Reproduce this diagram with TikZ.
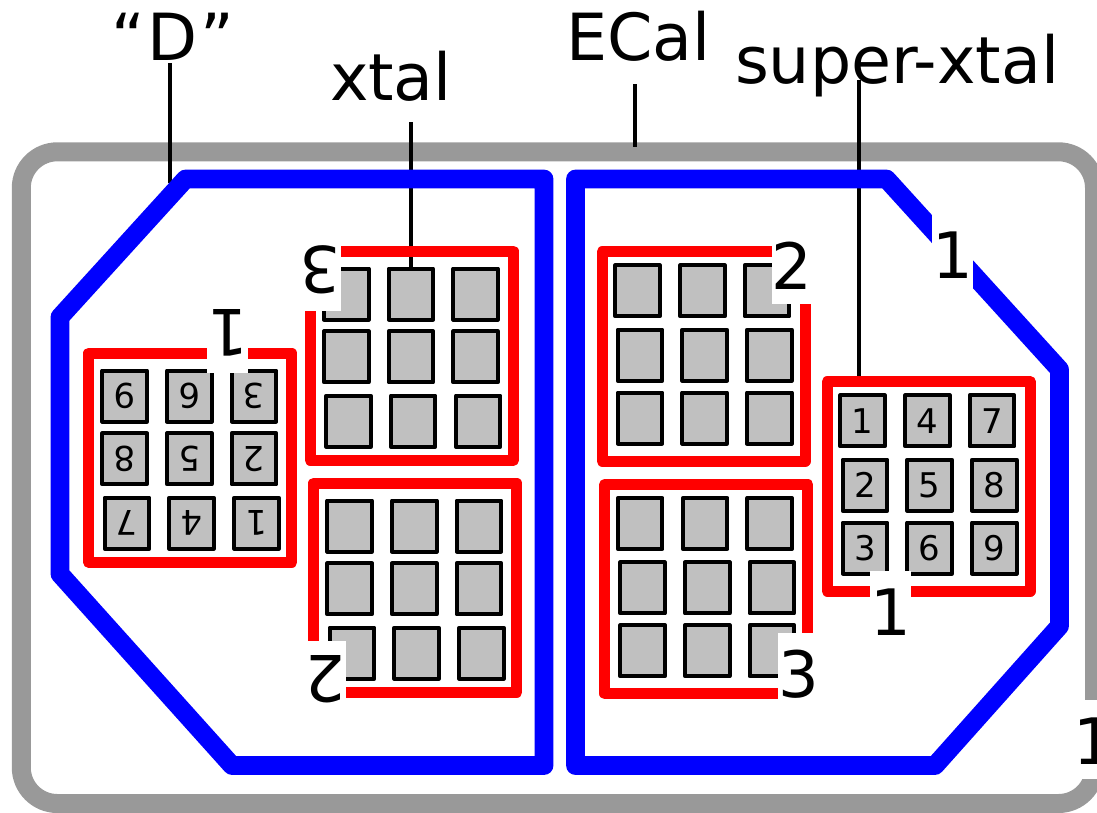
\documentclass[tikz,border=0pt]{standalone}
\usepackage{fontspec}
\setmainfont{DejaVu Sans}
\newcommand\bigfont{\fontsize{64}{70}\selectfont}
\newcommand\labelfont{\fontsize{65}{70}\selectfont}
\newcommand\cellfont{\fontsize{34}{38}\selectfont}
\definecolor{shellgray}{HTML}{999999}
\definecolor{cellgray}{HTML}{C0C0C0}
\tikzset{
  shell/.style={draw=shellgray,line width=19pt,rounded corners=36pt},
  dee/.style={draw=blue,line width=18.8pt,line join=round},
  leader/.style={draw=black,line width=4.2pt},
  redframe/.style={draw=red,line width=11pt,line join=round,rectangle,inner sep=0pt,outer sep=0pt,minimum width=203pt,minimum height=209.3pt},
  xtalcell/.style={draw=black,fill=cellgray,line width=4pt,line join=round,rectangle,inner sep=0pt,outer sep=0pt,minimum width=44.5pt,minimum height=51pt,font=\cellfont,text=black},
  biglabel/.style={inner sep=0pt,outer sep=0pt,font=\labelfont,anchor=base west,text=black},
  numlabel/.style={fill=white,inner sep=0pt,outer sep=0pt,font=\bigfont,text=black,minimum width=41pt,text height=64.3pt,text depth=14.5pt,align=center,text width=41pt}
}
\newcommand\crystalgroup[3]{%
  \begin{scope}[#2]
    \node[redframe] (#1-frame) at (928.75,486.35) {};
    \foreach \n/\cx/\cy in {1/862.5/420.8,4/927.5/420.8,7/992/420.8,
                            2/865/485.2,5/929.7/485.2,8/994.3/485.2,
                            3/865/548,6/929.7/548,9/994.3/548}{
      \node[xtalcell] (#1-\n) at (\cx,\cy) {\ifnum#3=1 \n\fi};
    }
  \end{scope}%
}
\begin{document}
\begin{tikzpicture}[x=1pt,y=-1pt]
\useasboundingbox (0,0) rectangle (1097,812);
\clip (0,0) rectangle (1097,812);
\node[biglabel] (dlabel) at (111,60) {“\kern3pt D\kern3pt ”};
\node[biglabel] (xtallabel) at (330,100) {xtal};
\node[biglabel] (ecallabel) at (566.5,60) {ECal};
\node[biglabel] (superlabel) at (735,83) {super-xtal};
\draw[shell] (21.3,151.8) rectangle (1094.5,803.5);
\coordinate (dtop) at (170,63);
\coordinate (dend) at (170,183);
\coordinate (xtop) at (411,122);
\coordinate (xend) at (411,267);
\coordinate (etop) at (635,84);
\coordinate (eend) at (635,146.7);
\coordinate (stop) at (859.3,80);
\coordinate (send) at (859.3,378);
\draw[leader] (dtop) -- (dend);
\draw[leader] (xtop) -- (xend);
\draw[leader] (etop) -- (eend);
\draw[leader] (stop) -- (send);
\draw[dee] (185.5,179) -- (544,179) -- (544,765.5) -- (232,765.5) -- (60,574) -- (60,317) -- cycle;
\draw[dee] (575.5,179) -- (886.5,179) -- (1059.5,369.5) -- (1059.5,626) -- (935,765.5) -- (575.5,765.5) -- cycle;
\crystalgroup{rone}{}{1}
\crystalgroup{rtwo}{shift={(-225,-130)}}{0}
\crystalgroup{rthree}{shift={(-222.4,102.7)}}{0}
\crystalgroup{lone}{rotate around={180:(559.5,472)},transform shape}{1}
\crystalgroup{lthree}{shift={(221.6,-102)},rotate around={180:(559.5,472)},transform shape}{0}
\crystalgroup{ltwo}{shift={(225,130)},rotate around={180:(559.5,472)},transform shape}{0}
\node[numlabel,rotate=180] (numlone) at (227.8,333.9) {1};
\node[numlabel,rotate=180] (numlthree) at (320.2,271.6) {3};
\node[numlabel,rotate=180] (numltwo) at (325.5,680.1) {2};
\node[numlabel] (numrone) at (890.5,610.4) {1};
\node[numlabel] (numrtwo) at (792.2,264.6) {2};
\node[numlabel] (numrthree) at (798.8,672.1) {3};
\node[numlabel] (numdee) at (952.5,253.4) {1};
\node[numlabel] (numecal) at (1094.2,739.4) {1};
\end{tikzpicture}
\end{document}
